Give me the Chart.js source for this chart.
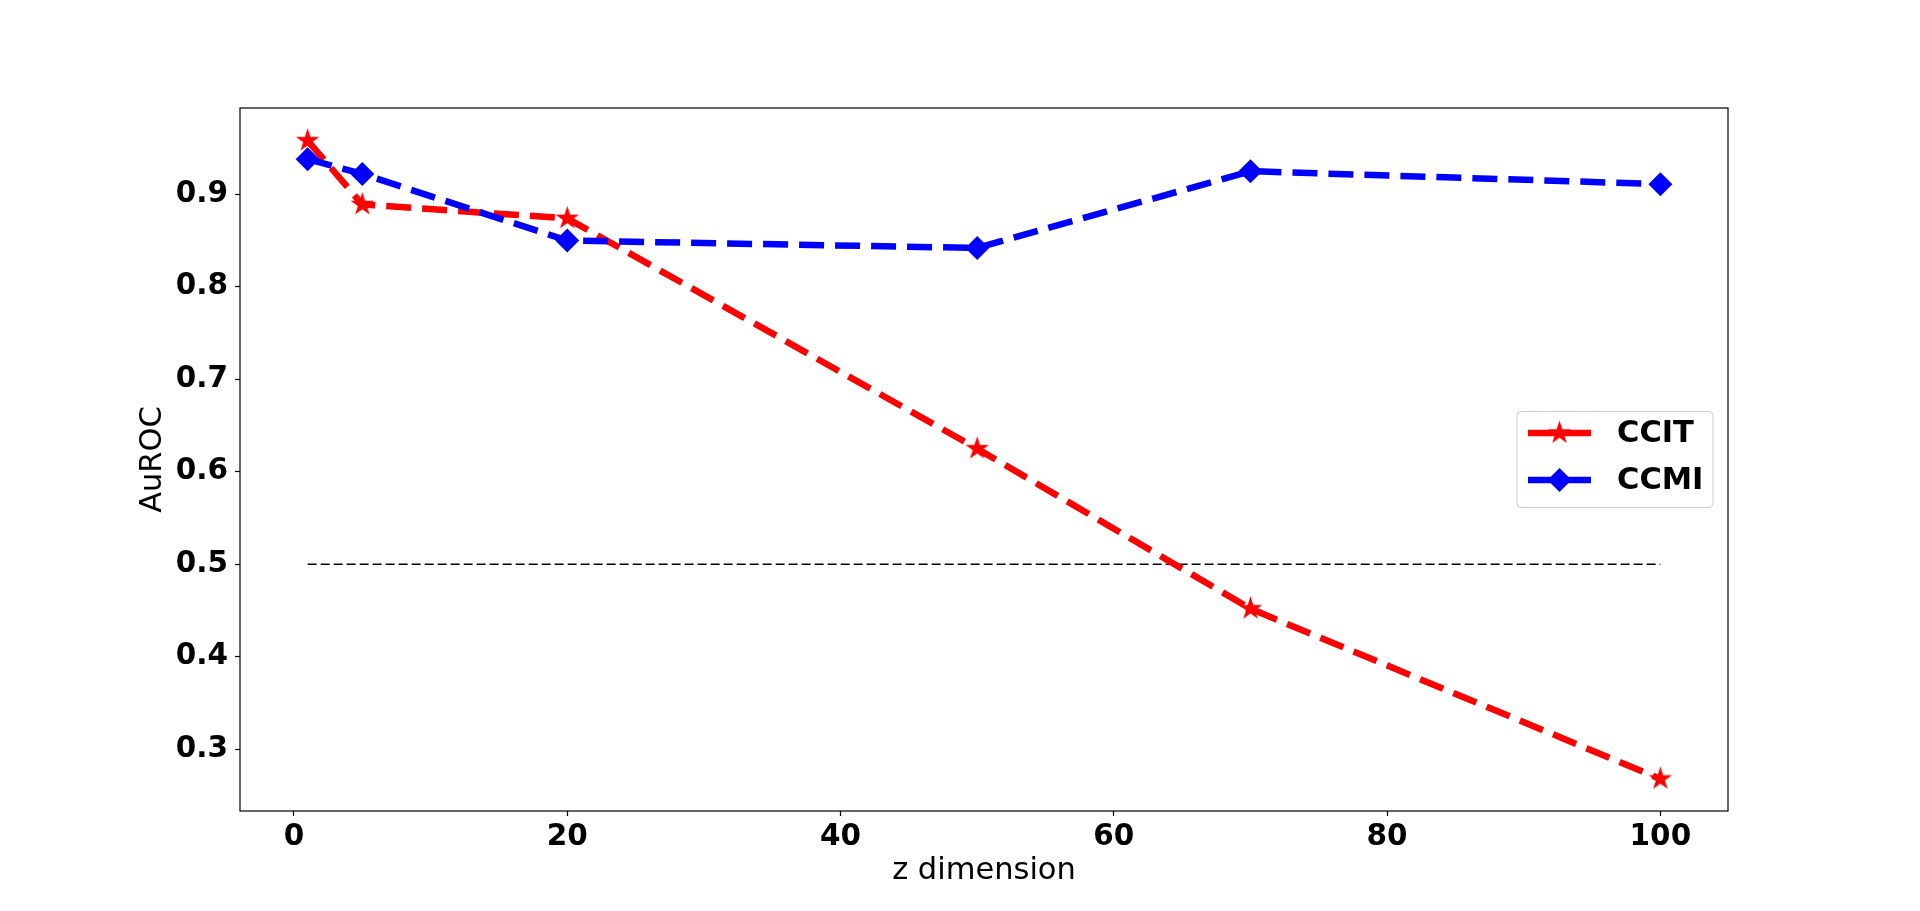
<!DOCTYPE html>
<html>
<head>
<meta charset="utf-8">
<script src="https://cdn.jsdelivr.net/npm/chart.js@4"></script>
<style>
  html, body { margin: 0; padding: 0; background: white; }
  #grafico { display: block; }
</style>
</head>
<body>
<canvas id="grafico" width="1920" height="911"></canvas>
<script>
// dados
const zDim = [1, 5, 20, 50, 70, 100];
const ccit = [0.958, 0.889, 0.874, 0.625, 0.452, 0.268];
const ccmi = [0.938, 0.922, 0.850, 0.842, 0.925, 0.911];
const refX = [1, 100];
const refY = [0.5, 0.5];
const xTicks = [0, 20, 40, 60, 80, 100];
const yTicks = [0.3, 0.4, 0.5, 0.6, 0.7, 0.8, 0.9];

const FONT = "'DejaVu Sans', sans-serif";

// marcador estrela (como o '*' do matplotlib)
function estrela(R, cor){
    const c = document.createElement("canvas");
    const s = Math.ceil(R * 2 + 4);
    c.width = s; c.height = s;
    const g = c.getContext("2d");
    const r = R * 0.381966;
    g.beginPath();
    for (let i = 0; i < 10; i++) {
        const a = -Math.PI / 2 + i * Math.PI / 5;
        const rr = i % 2 === 0 ? R : r;
        const px = s / 2 + rr * Math.cos(a);
        const py = s / 2 + rr * Math.sin(a);
        if (i === 0) g.moveTo(px, py); else g.lineTo(px, py);
    }
    g.closePath();
    g.fillStyle = cor;
    g.fill();
    return c;
}

const star = estrela(12.4, "red");

function pontos(xs, ys){
    return xs.map((x, i) => ({x: x, y: ys[i]}));
}

// moldura + legenda
const extras = {
    id: "extras",
    afterDraw(chart){
        const ctx = chart.ctx;
        const a = chart.chartArea;
        ctx.save();
        ctx.strokeStyle = "black";
        ctx.lineWidth = 1.2;
        ctx.strokeRect(a.left, a.top, a.right - a.left, a.bottom - a.top);

        // legenda
        const w = 196, h = 96;
        const bx = a.right - 15 - w;
        const by = (a.top + a.bottom) / 2 - h / 2;
        ctx.beginPath();
        ctx.roundRect(bx, by, w, h, 4);
        ctx.fillStyle = "rgba(255,255,255,0.8)";
        ctx.fill();
        ctx.strokeStyle = "#cccccc";
        ctx.lineWidth = 1;
        ctx.stroke();

        const itens = [
            {label: "CCIT", cor: "red", tipo: "star"},
            {label: "CCMI", cor: "blue", tipo: "diamond"}
        ];
        itens.forEach((it, i) => {
            const y = by + 21.5 + i * 47;
            const x0 = bx + 11, x1 = bx + 74;
            ctx.beginPath();
            ctx.moveTo(x0, y);
            ctx.lineTo(x1, y);
            ctx.strokeStyle = it.cor;
            ctx.lineWidth = 6.5;
            ctx.stroke();
            const cx = (x0 + x1) / 2;
            if (it.tipo === "star") {
                ctx.drawImage(star, cx - star.width / 2, y - star.height / 2);
            } else {
                ctx.beginPath();
                ctx.moveTo(cx - 12, y);
                ctx.lineTo(cx, y - 12);
                ctx.lineTo(cx + 12, y);
                ctx.lineTo(cx, y + 12);
                ctx.closePath();
                ctx.fillStyle = it.cor;
                ctx.fill();
            }
            ctx.fillStyle = "black";
            ctx.font = "bold 30.5px " + FONT;
            ctx.textBaseline = "middle";
            ctx.textAlign = "left";
            ctx.fillText(it.label, bx + 100, y + 1);
        });
        ctx.restore();
    }
};

new Chart(

    document.getElementById("grafico"),

    {
    type: "line",

    data: {
        datasets: [
            {
                label: "CCIT",
                data: pontos(zDim, ccit),
                borderColor: "red",
                backgroundColor: "red",
                borderWidth: 6.5,
                borderDash: [25, 11],
                borderCapStyle: "butt",
                pointStyle: star,
                pointRadius: 12,
                tension: 0,
                order: 2
            },
            {
                label: "CCMI",
                data: pontos(zDim, ccmi),
                borderColor: "blue",
                backgroundColor: "blue",
                borderWidth: 6.5,
                borderDash: [25, 11],
                borderCapStyle: "butt",
                pointStyle: "rectRot",
                pointRadius: 12,
                pointBorderWidth: 0,
                tension: 0,
                order: 1
            },
            {
                label: "ref",
                data: pontos(refX, refY),
                borderColor: "black",
                borderWidth: 1.6,
                borderDash: [9, 4],
                pointRadius: 0,
                tension: 0,
                order: 3
            }
        ]
    },

    options: {
        responsive: false,
        animation: false,
        layout: {
            padding: {left: 120, right: 192, top: 108, bottom: 0}
        },
        plugins: {
            legend: {display: false},
            tooltip: {enabled: false}
        },
        scales: {
            x: {
                type: "linear",
                min: -3.95,
                max: 104.95,
                afterBuildTicks: s => { s.ticks = xTicks.map(v => ({value: v})); },
                afterFit: s => { s.height = 100; },
                grid: {
                    display: true,
                    drawOnChartArea: false,
                    drawTicks: true,
                    tickLength: 5,
                    tickColor: "black",
                    tickWidth: 1.2
                },
                border: {display: false},
                ticks: {
                    color: "black",
                    padding: 4,
                    maxRotation: 0,
                    font: {family: FONT, size: 29.5, weight: "bold"},
                    callback: v => String(v)
                },
                title: {
                    display: true,
                    text: "z dimension",
                    color: "black",
                    font: {family: FONT, size: 30.5},
                    padding: {top: 0, bottom: 22}
                }
            },
            y: {
                type: "linear",
                min: 0.2333,
                max: 0.9933,
                afterBuildTicks: s => { s.ticks = yTicks.map(v => ({value: v})); },
                afterFit: s => { s.width = 120; },
                grid: {
                    display: true,
                    drawOnChartArea: false,
                    drawTicks: true,
                    tickLength: 5,
                    tickColor: "black",
                    tickWidth: 1.2
                },
                border: {display: false},
                ticks: {
                    color: "black",
                    padding: 7,
                    font: {family: FONT, size: 29.5, weight: "bold"},
                    callback: v => v.toFixed(1)
                },
                title: {
                    display: true,
                    text: "AuROC",
                    color: "black",
                    font: {family: FONT, size: 30.5},
                    padding: {top: 15, bottom: 0}
                }
            }
        }
    },

    plugins: [extras]
    }

);
</script>
</body>
</html>
